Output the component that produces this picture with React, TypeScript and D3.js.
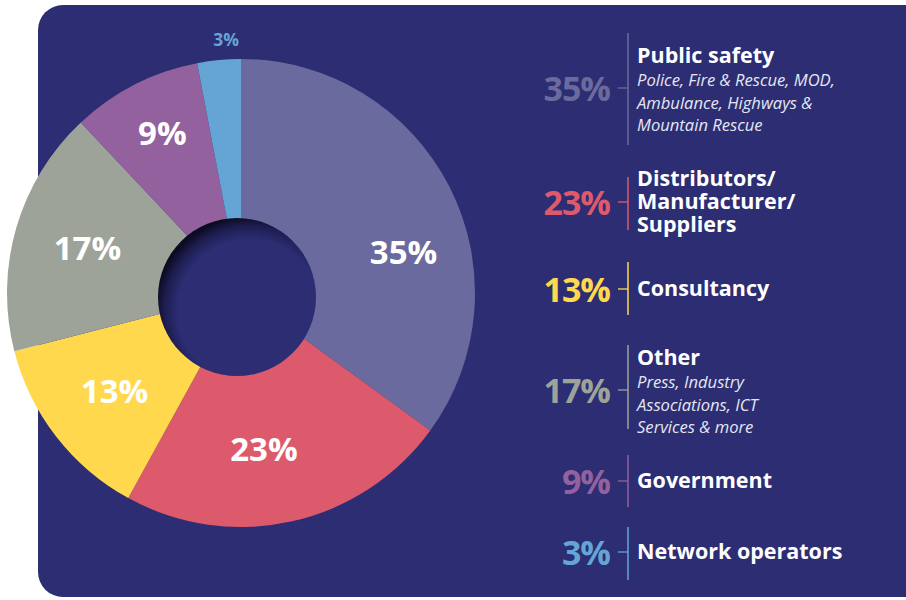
import { useMemo } from 'react';
import * as d3 from 'd3';

// Share of respondents by sector
const sectors = ['Public safety', 'Distributors', 'Consultancy', 'Other', 'Government', 'Network operators'];
const shares = [35, 23, 13, 17, 9, 3];
const titleLines = [
  ['Public safety'],
  ['Distributors/', 'Manufacturer/', 'Suppliers'],
  ['Consultancy'],
  ['Other'],
  ['Government'],
  ['Network operators'],
];
const noteLines = [
  ['Police, Fire & Rescue, MOD,', 'Ambulance, Highways &', 'Mountain Rescue'],
  [],
  [],
  ['Press, Industry', 'Associations, ICT', 'Services & more'],
  [],
  [],
];
const palette = ['#6b6a9e', '#dd5a6c', '#ffd84e', '#9ea39a', '#93629e', '#65a5d6'];

const BG = '#2c2d73';
const FONT = '"Open Sans", "DejaVu Sans", sans-serif';

// legend rows: tick y, bar top, bar bottom
const legendRows = [
  { y: 88, top: 33, bottom: 145 },
  { y: 202, top: 177, bottom: 230 },
  { y: 289, top: 262, bottom: 315 },
  { y: 390, top: 345, bottom: 429 },
  { y: 481, top: 455, bottom: 507 },
  { y: 552, top: 527, bottom: 580 },
];

// small hand nudges for labels that sit off the centroid
const labelNudge: Record<string, [number, number]> = {
  'Public safety': [20, 32],
  Distributors: [-12, 0],
  Government: [-6, -17],
  'Network operators': [9, 0],
};

export default function App() {
  const width = 906;
  const height = 600;
  const cx = 241;
  const cy = 293;
  const outerR = 234;

  const arcs = useMemo(
    () => d3.pie<number>().sort(null).value((d) => d)(shares),
    []
  );
  const arcGen = d3.arc<d3.PieArcDatum<number>>().innerRadius(60).outerRadius(outerR);
  const labelArc = d3.arc<d3.PieArcDatum<number>>().innerRadius(160).outerRadius(160);
  const outsideArc = d3.arc<d3.PieArcDatum<number>>().innerRadius(254).outerRadius(254);

  return (
    <div style={{ position: 'fixed', left: 0, top: 0 }}>
      <svg width={width} height={height} style={{ display: 'block', background: '#fff' }}>
        <defs>
          <radialGradient id="hole" cx="0.58" cy="0.59" r="0.6">
            <stop offset="0.76" stopColor={BG} />
            <stop offset="0.9" stopColor="#1d1d50" />
            <stop offset="1" stopColor="#0b0b22" />
          </radialGradient>
        </defs>
        <rect x={38} y={5} width={920} height={592} rx={25} fill={BG} />

        {/* donut slices */}
        <g transform={`translate(${cx},${cy})`}>
          {arcs.map((a, i) => (
            <path key={sectors[i]} d={arcGen(a) ?? ''} fill={palette[i]} />
          ))}
          {arcs.map((a, i) => {
            const small = a.data < 5;
            const [x, y] = small ? outsideArc.centroid(a) : labelArc.centroid(a);
            const n = labelNudge[sectors[i]] ?? [0, 0];
            return (
              <text
                key={`l-${sectors[i]}`}
                x={x + n[0]}
                y={y + n[1]}
                dy="0.36em"
                textAnchor="middle"
                fill={small ? palette[i] : '#fff'}
                fontFamily={FONT}
                fontWeight={700}
                fontSize={small ? 17.5 : 33}
              >
                {a.data}%
              </text>
            );
          })}
        </g>
        <circle cx={237} cy={297} r={79} fill="url(#hole)" />

        {/* legend */}
        <g>
          {legendRows.map((row, i) => {
            const titles = titleLines[i];
            const notes = noteLines[i];
            const hasNotes = notes.length > 0;
            return (
              <g key={`lg-${sectors[i]}`}>
                <text
                  x={610}
                  y={row.y + 13}
                  textAnchor="end"
                  fill={palette[i]}
                  fontFamily={FONT}
                  fontWeight={700}
                  fontSize={34}
                  letterSpacing={-1}
                >
                  {shares[i]}%
                </text>
                <line x1={618} x2={628} y1={row.y} y2={row.y} stroke={palette[i]} strokeWidth={1.3} />
                <line x1={628} x2={628} y1={row.top} y2={row.bottom} stroke={palette[i]} strokeWidth={1.5} />
                {titles.map((t, j) => {
                  const by = hasNotes
                    ? row.y - 25
                    : row.y + 7 + (j - (titles.length - 1) / 2) * 23;
                  return (
                    <text
                      key={t}
                      x={637}
                      y={by}
                      fill="#fff"
                      fontFamily={FONT}
                      fontWeight={700}
                      fontSize={21.5}
                    >
                      {t}
                    </text>
                  );
                })}
                {notes.map((t, j) => (
                  <text
                    key={t}
                    x={637}
                    y={row.y - 2 + j * 22.5}
                    fill="#e6e6f2"
                    fontFamily={FONT}
                    fontStyle="italic"
                    fontSize={16.6}
                  >
                    {t}
                  </text>
                ))}
              </g>
            );
          })}
        </g>
      </svg>
    </div>
  );
}
